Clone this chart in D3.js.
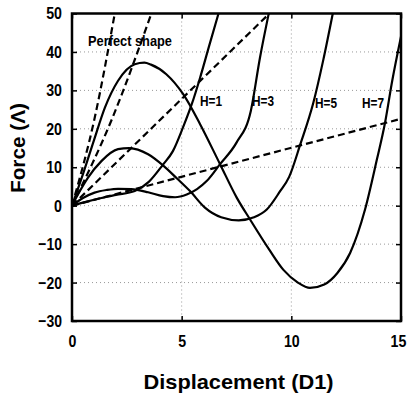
<!DOCTYPE html>
<html><head><meta charset="utf-8">
<script src="https://cdn.jsdelivr.net/npm/d3@7"></script>
<style>
html,body{margin:0;padding:0;background:#fff;}
text{font-family:"Liberation Sans Narrow","Arial Narrow","Liberation Sans",Arial,sans-serif;font-weight:bold;fill:#000;}
</style></head>
<body><svg id="c" width="411" height="403"></svg>
<script>
// ---- data ----
const xTicks = [0, 5, 10, 15];
const yTicks = [-30, -20, -10, 0, 10, 20, 30, 40, 50];

const h1 = [[0,0],[0.5,0.8],[1.34,2.0],[2.0,2.8],[2.86,3.8],[3.5,6.2],[4.15,10.7],[4.6,14.2],[5.07,20.5],[5.46,26.4],[5.84,33.3],[6.25,41.5],[6.68,50]];
const h3 = [[0,0],[0.5,2.0],[1.03,3.4],[1.6,4.1],[2.1,4.4],[2.7,4.3],[3.47,3.5],[4.15,2.5],[4.7,2.2],[5.23,2.9],[5.7,4.3],[6.14,6.4],[6.75,10.8],[7.5,16.4],[8.15,24.6],[8.57,38.5],[8.97,50]];
const h5 = [[0,0],[0.27,2.9],[0.73,7.3],[1.34,11.6],[2.1,14.7],[2.6,15.0],[3.47,13.4],[4.15,10.5],[4.8,7.0],[5.38,3.8],[6.06,-0.5],[6.8,-3.0],[7.6,-3.8],[8.3,-3.0],[8.88,-1.0],[9.48,3.7],[9.9,7.5],[10.4,15.8],[11.0,26.7],[11.46,38],[11.89,50]];
const h7 = [[0,0],[0.5,8.2],[1.0,17],[1.5,25.5],[2.1,32.5],[2.86,36.8],[3.3,37.2],[3.6,36.7],[4.3,34.2],[5.07,29],[5.84,21.2],[6.75,10.8],[7.51,2.1],[8.12,-3.6],[9.0,-11.5],[9.64,-16.7],[10.3,-20],[10.85,-21.4],[11.5,-20.5],[12.1,-17.5],[12.68,-12.3],[13.36,-1],[13.9,12],[14.27,21.5],[14.6,32.5],[15,44]];

const dashA = [[0,0],[1.04,23],[1.95,50]];
const dashB = [[0,0],[1.79,22.1],[3.62,50]];
const dashC = [[0,0],[9.0,50]];
const dashD = [[0,0],[15,22.6]];

const solidSeries = [h1, h3, h5, h7];
const dashedSeries = [dashA, dashB, dashC, dashD];

const curveLabels = ["H=1", "H=3", "H=5", "H=7"];
const curveLabelAt = [[5.84,25.9],[8.21,25.9],[11.08,25.4],[13.22,25.4]];
const noteLabel = "Perfect shape";
const noteAt = [0.73, 41.5];

// ---- layout ----
const svg = d3.select("#c");
const L = 72, R = 401, T = 13.5, B = 321;
const x = d3.scaleLinear().domain([0,15]).range([L,R]);
const y = d3.scaleLinear().domain([-30,50]).range([B,T]);

svg.append("defs").append("clipPath").attr("id","clip")
  .append("rect").attr("x",L).attr("y",T).attr("width",R-L).attr("height",B-T);

// grid
const g = svg.append("g");
g.selectAll(".gx").data(xTicks.slice(1,-1)).enter().append("line")
  .attr("x1",d=>x(d)).attr("x2",d=>x(d)).attr("y1",T).attr("y2",B)
  .attr("stroke","#999").attr("stroke-width",1).attr("stroke-dasharray","1,3");
g.selectAll(".gy").data(yTicks.slice(1,-1)).enter().append("line")
  .attr("y1",d=>y(d)).attr("y2",d=>y(d)).attr("x1",L).attr("x2",R)
  .attr("stroke","#999").attr("stroke-width",1).attr("stroke-dasharray","1,3");

// axes (inward ticks)
const axB = svg.append("g").attr("transform",`translate(0,${B})`)
  .call(d3.axisBottom(x).tickValues(xTicks).tickSize(-5).tickPadding(14).tickFormat(d3.format("d")));
const axT = svg.append("g").attr("transform",`translate(0,${T})`)
  .call(d3.axisTop(x).tickValues(xTicks).tickSize(-5).tickFormat(""));
const axL = svg.append("g").attr("transform",`translate(${L},0)`)
  .call(d3.axisLeft(y).tickValues(yTicks).tickSize(-5).tickPadding(10).tickFormat(d3.format("d")));
const axR = svg.append("g").attr("transform",`translate(${R},0)`)
  .call(d3.axisRight(y).tickValues(yTicks).tickSize(-5).tickFormat(""));
[axB,axT,axL,axR].forEach(a=>{
  a.select(".domain").remove();
  a.selectAll(".tick line").attr("stroke","#000").attr("stroke-width",1.5);
  a.selectAll("text").attr("font-size",17).attr("font-family",null).attr("fill","#000")
    .each(function(){
      const s = d3.select(this).text();
      if (s.length) d3.select(this).attr("textLength", s.length*7.9).attr("lengthAdjust","spacingAndGlyphs");
    });
});
axB.selectAll("text").attr("dy","0.71em");
axB.selectAll(".tick").filter(d=>d===15).select("text").attr("dx",-3);

// frame
svg.append("rect").attr("x",L).attr("y",T).attr("width",R-L).attr("height",B-T)
  .attr("fill","none").attr("stroke","#000").attr("stroke-width",2.5);

// lines
const line = d3.line().x(d=>x(d[0])).y(d=>y(d[1])).curve(d3.curveMonotoneX);
const plot = svg.append("g").attr("clip-path","url(#clip)");
plot.selectAll(".s").data(solidSeries).enter().append("path")
  .attr("d",line).attr("fill","none").attr("stroke","#000").attr("stroke-width",2.2);
plot.selectAll(".d").data(dashedSeries).enter().append("path")
  .attr("d",line).attr("fill","none").attr("stroke","#000").attr("stroke-width",2.2)
  .attr("stroke-dasharray","7,4");

// labels
svg.selectAll(".hl").data(curveLabels).enter().append("text")
  .attr("x",(d,i)=>x(curveLabelAt[i][0])).attr("y",(d,i)=>y(curveLabelAt[i][1]))
  .attr("font-size",14).attr("textLength",22).attr("lengthAdjust","spacingAndGlyphs").text(d=>d);
svg.append("text").attr("x",x(noteAt[0])).attr("y",y(noteAt[1]))
  .attr("font-size",15).attr("textLength",84).attr("lengthAdjust","spacingAndGlyphs").text(noteLabel);

// axis titles
svg.append("text").attr("x",(L+R)/2+2).attr("y",389).attr("text-anchor","middle")
  .attr("font-size",21).attr("textLength",190).attr("lengthAdjust","spacingAndGlyphs")
  .text("Displacement (D1)");
svg.append("text").attr("transform","translate(25,148) rotate(-90)").attr("text-anchor","middle")
  .attr("font-size",21).attr("textLength",90).attr("lengthAdjust","spacingAndGlyphs")
  .text("Force (Λ)");
</script></body></html>
